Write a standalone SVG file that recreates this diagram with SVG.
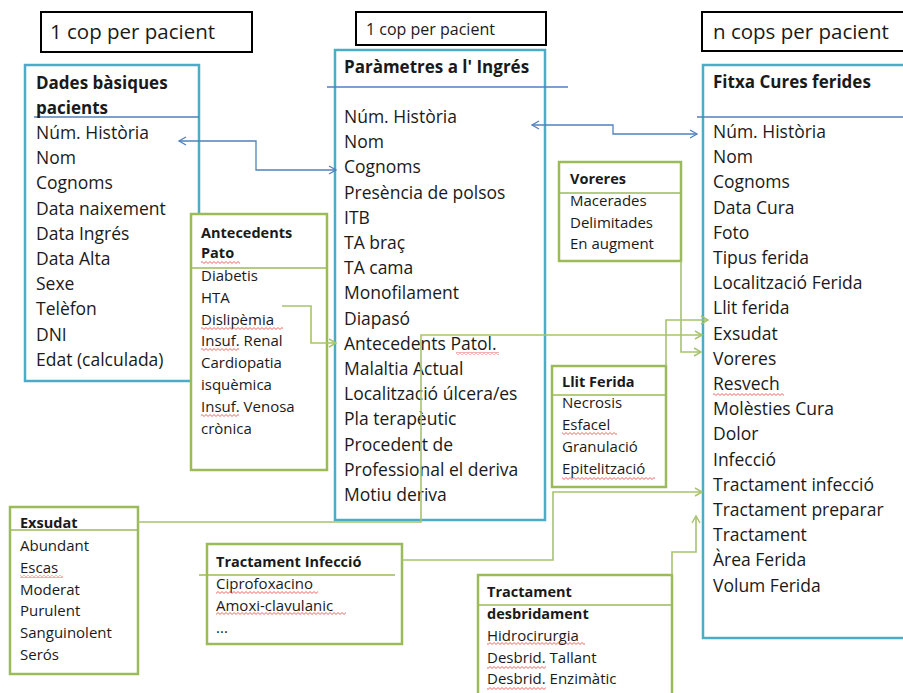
<svg xmlns="http://www.w3.org/2000/svg" width="903" height="693" viewBox="0 0 903 693">
<style>
text{font-family:'Open Sans','Liberation Sans',sans-serif;fill:#1a1a1a}
.m{font-size:17.5px}
.s{font-size:15px}
.h{font-size:20.5px}
.hs{font-size:16px}
.bm{font-size:17px;font-weight:bold}
.bs{font-size:14.5px;font-weight:bold}
.hdr{fill:#fff;stroke:#000;stroke-width:2}
.bb{fill:#fff;stroke:#4BACC6;stroke-width:2.5}
.gb{fill:#fff;stroke:#9BBB59;stroke-width:2.5}
.bd{stroke:#4F81BD;stroke-width:1.3;fill:none}
.gd{stroke:#9BBB59;stroke-width:1.6;fill:none}
.bc{fill:none;stroke:#4F81BD;stroke-width:1.3}
.gc{fill:none;stroke:#A6C46E;stroke-width:1.6}
.sq{fill:url(#squig)}
</style>
<defs>
<pattern id="squig" patternUnits="userSpaceOnUse" width="4" height="3">
<path d="M-1,1.5 L0,2.5 L2,0.5 L4,2.5 L5,1.5" fill="none" stroke="#E53935" stroke-width="0.8"/>
</pattern>
<marker id="ab" markerUnits="userSpaceOnUse" markerWidth="12" markerHeight="12" refX="8" refY="5" orient="auto-start-reverse">
<path d="M1,1 L8,5 L1,9" fill="none" stroke="#4F81BD" stroke-width="1.3"/>
</marker>
<marker id="ag" markerUnits="userSpaceOnUse" markerWidth="12" markerHeight="12" refX="8" refY="5" orient="auto">
<path d="M1,1 L8,5 L1,9" fill="none" stroke="#A6C46E" stroke-width="1.5"/>
</marker>
</defs>
<rect width="903" height="693" fill="#fff"/>

<g id="header-left">
<rect class="hdr" x="41" y="12" width="211" height="40"/>
<text class="h" x="50" y="39">1 cop per pacient</text>
</g>
<g id="header-mid">
<rect class="hdr" x="356" y="12" width="190" height="33"/>
<text class="hs" x="366" y="35">1 cop per pacient</text>
</g>
<g id="header-right">
<rect class="hdr" x="702" y="12" width="210" height="39"/>
<text class="h" x="713" y="39">n cops per pacient</text>
</g>

<g id="dades-basiques">
<rect class="bb" x="25" y="65" width="174" height="316"/>
<line class="bd" x1="34" y1="117" x2="199" y2="117"/>
<text class="bm" x="36" y="89">Dades bàsiques</text>
<text class="bm" x="36" y="114">pacients</text>
<text class="m" x="36" y="139">Núm. Història</text>
<text class="m" x="36" y="164.2">Nom</text>
<text class="m" x="36" y="189.4">Cognoms</text>
<text class="m" x="36" y="214.6">Data naixement</text>
<text class="m" x="36" y="239.8">Data Ingrés</text>
<text class="m" x="36" y="265">Data Alta</text>
<text class="m" x="36" y="290.2">Sexe</text>
<text class="m" x="36" y="315.4">Telèfon</text>
<text class="m" x="36" y="340.6">DNI</text>
<text class="m" x="36" y="365.8">Edat (calculada)</text>
</g>

<g id="antecedents-pato">
<rect class="gb" x="191" y="214" width="136" height="256"/>
<line class="gd" x1="191" y1="268" x2="327" y2="268"/>
<text class="bs" x="201" y="238">Antecedents</text>
<text class="bs" x="201" y="258">Pato</text>
<rect class="sq" x="201" y="261" width="39" height="3"/>
<text class="s" x="201" y="281">Diabetis</text>
<text class="s" x="201" y="302.8">HTA</text>
<text class="s" x="201" y="324.6">Dislipèmia</text>
<rect class="sq" x="201" y="327" width="82" height="3"/>
<text class="s" x="201" y="346.4">Insuf. Renal</text>
<rect class="sq" x="201" y="348" width="38" height="3"/>
<text class="s" x="201" y="368.2">Cardiopatia</text>
<text class="s" x="201" y="390">isquèmica</text>
<text class="s" x="201" y="411.8">Insuf. Venosa</text>
<rect class="sq" x="201" y="414" width="38" height="3"/>
<text class="s" x="201" y="433.6">crònica</text>
</g>

<g id="parametres-ingres">
<rect class="bb" x="335" y="50" width="210" height="470"/>
<line class="bd" x1="327" y1="87" x2="568" y2="87"/>
<text class="bm" x="344" y="73">Paràmetres a l' Ingrés</text>
<text class="m" x="344" y="123">Núm. Història</text>
<text class="m" x="344" y="148.2">Nom</text>
<text class="m" x="344" y="173.4">Cognoms</text>
<text class="m" x="344" y="198.6">Presència de polsos</text>
<text class="m" x="344" y="223.8">ITB</text>
<text class="m" x="344" y="249">TA braç</text>
<text class="m" x="344" y="274.2">TA cama</text>
<text class="m" x="344" y="299.4">Monofilament</text>
<text class="m" x="344" y="324.6">Diapasó</text>
<text class="m" x="344" y="349.8">Antecedents Patol.</text>
<rect class="sq" x="456" y="352" width="43" height="3"/>
<text class="m" x="344" y="375">Malaltia Actual</text>
<text class="m" x="344" y="400.2">Localització úlcera/es</text>
<text class="m" x="344" y="425.4">Pla terapèutic</text>
<text class="m" x="344" y="450.6">Procedent de</text>
<text class="m" x="344" y="475.8">Professional el deriva</text>
<text class="m" x="344" y="501">Motiu deriva</text>
</g>

<g id="voreres">
<rect class="gb" x="559" y="162" width="122" height="99"/>
<line class="gd" x1="559" y1="193" x2="681" y2="193"/>
<text class="bs" x="570" y="184">Voreres</text>
<text class="s" x="570" y="206">Macerades</text>
<text class="s" x="570" y="227.7">Delimitades</text>
<text class="s" x="570" y="249.4">En augment</text>
</g>

<g id="llit-ferida">
<rect class="gb" x="552" y="366" width="114" height="121"/>
<line class="gd" x1="552" y1="395" x2="666" y2="395"/>
<text class="bs" x="562" y="387">Llit Ferida</text>
<text class="s" x="562" y="408">Necrosis</text>
<text class="s" x="562" y="430">Esfacel</text>
<rect class="sq" x="562" y="432" width="55" height="3"/>
<text class="s" x="562" y="452">Granulació</text>
<text class="s" x="562" y="474">Epitelització</text>
<rect class="sq" x="562" y="477" width="93" height="3"/>
</g>

<g id="fitxa-cures">
<rect class="bb" x="703" y="65" width="210" height="573"/>
<line class="bd" x1="697" y1="117" x2="903" y2="117"/>
<text class="bm" x="713" y="88">Fitxa Cures ferides</text>
<text class="m" x="713" y="138">Núm. Història</text>
<text class="m" x="713" y="163.2">Nom</text>
<text class="m" x="713" y="188.4">Cognoms</text>
<text class="m" x="713" y="213.6">Data Cura</text>
<text class="m" x="713" y="238.8">Foto</text>
<text class="m" x="713" y="264">Tipus ferida</text>
<text class="m" x="713" y="289.2">Localització Ferida</text>
<text class="m" x="713" y="314.4">Llit ferida</text>
<text class="m" x="713" y="339.6">Exsudat</text>
<text class="m" x="713" y="364.8">Voreres</text>
<text class="m" x="713" y="390">Resvech</text>
<rect class="sq" x="713" y="393" width="71" height="3"/>
<text class="m" x="713" y="415.2">Molèsties Cura</text>
<text class="m" x="713" y="440.4">Dolor</text>
<text class="m" x="713" y="465.6">Infecció</text>
<text class="m" x="713" y="490.8">Tractament infecció</text>
<text class="m" x="713" y="516">Tractament preparar</text>
<text class="m" x="713" y="541.2">Tractament</text>
<text class="m" x="713" y="566.4">Àrea Ferida</text>
<text class="m" x="713" y="591.6">Volum Ferida</text>
</g>

<g id="exsudat">
<rect class="gb" x="10" y="507" width="128" height="167"/>
<line class="gd" x1="10" y1="530" x2="138" y2="530"/>
<text class="bs" x="20" y="528">Exsudat</text>
<text class="s" x="20" y="551">Abundant</text>
<text class="s" x="20" y="572.8">Escas</text>
<rect class="sq" x="20" y="575" width="43" height="3"/>
<text class="s" x="20" y="594.6">Moderat</text>
<text class="s" x="20" y="616.4">Purulent</text>
<text class="s" x="20" y="638.2">Sanguinolent</text>
<text class="s" x="20" y="660">Serós</text>
</g>

<g id="tractament-infeccio">
<rect class="gb" x="207" y="544" width="195" height="100"/>
<line class="gd" x1="199" y1="575" x2="395" y2="575"/>
<text class="bs" x="216" y="567">Tractament Infecció</text>
<text class="s" x="216" y="589">Ciprofoxacino</text>
<rect class="sq" x="216" y="591" width="102" height="3"/>
<text class="s" x="216" y="611">Amoxi-clavulanic</text>
<rect class="sq" x="216" y="612" width="130" height="3"/>
<text class="s" x="216" y="633">...</text>
</g>

<g id="tractament-desbridament">
<rect class="gb" x="478" y="575" width="194" height="130"/>
<line class="gd" x1="478" y1="605" x2="672" y2="605"/>
<text class="bs" x="487" y="597">Tractament</text>
<text class="bs" x="487" y="619">desbridament</text>
<text class="s" x="487" y="641">Hidrocirurgia</text>
<rect class="sq" x="487" y="642" width="98" height="3"/>
<text class="s" x="487" y="663">Desbrid. Tallant</text>
<rect class="sq" x="487" y="666" width="59" height="3"/>
<text class="s" x="487" y="684">Desbrid. Enzimàtic</text>
<rect class="sq" x="487" y="687" width="59" height="3"/>
</g>

<g id="connectors">
<path class="bc" d="M179,141 H256 V170 H336" marker-start="url(#ab)" marker-end="url(#ab)"/>
<path class="bc" d="M532,125 H613 V134 H697" marker-start="url(#ab)" marker-end="url(#ab)"/>
<path class="gc" d="M282,306 H311 V343 H336" marker-end="url(#ag)"/>
<path class="gc" d="M681,261 V352 H701" marker-end="url(#ag)"/>
<path class="gc" d="M666,366 V320 H708" marker-end="url(#ag)"/>
<path class="gc" d="M138,522 H421 V335 H702" marker-end="url(#ag)"/>
<path class="gc" d="M402,560 H553 V492 H702" marker-end="url(#ag)"/>
<path class="gc" d="M672,575 V552 H696 V516" marker-end="url(#ag)"/>
</g>
</svg>
